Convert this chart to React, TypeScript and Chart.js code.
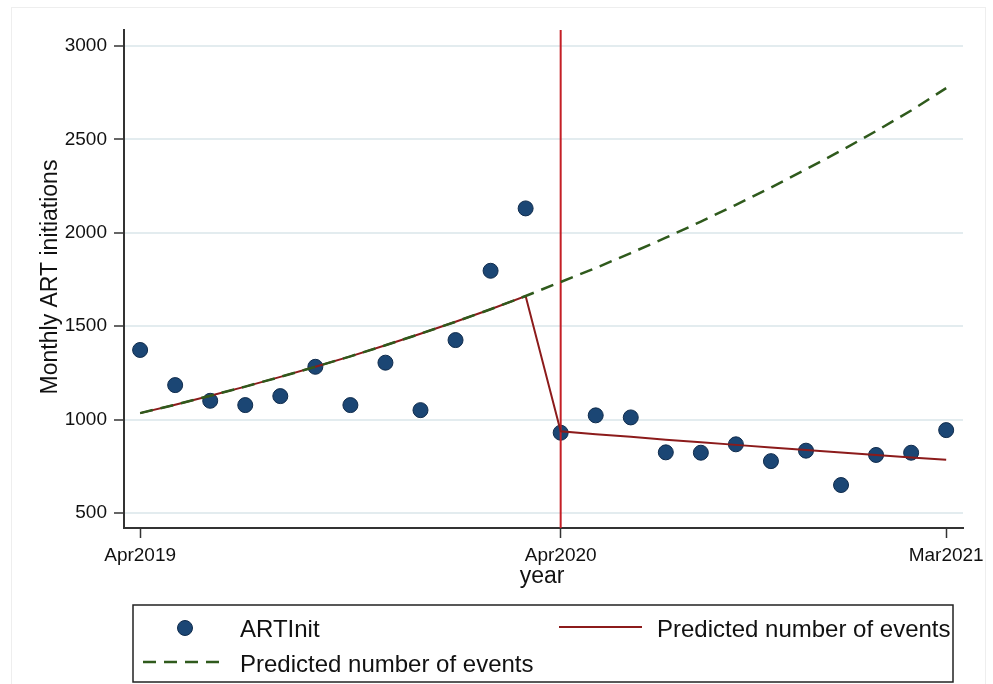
import React, { useEffect, useRef } from "react";
import { Chart, registerables } from "chart.js";

Chart.register(...registerables);

// Months index 0 = Apr2019 ... 23 = Mar2021
const months = [
  "Apr2019", "May2019", "Jun2019", "Jul2019", "Aug2019", "Sep2019", "Oct2019", "Nov2019",
  "Dec2019", "Jan2020", "Feb2020", "Mar2020", "Apr2020", "May2020", "Jun2020", "Jul2020",
  "Aug2020", "Sep2020", "Oct2020", "Nov2020", "Dec2020", "Jan2021", "Feb2021", "Mar2021",
];
const xTickIdx = [0, 12, 23];
const yTicks = [500, 1000, 1500, 2000, 2500, 3000];

const artInit = [
  1373, 1185, 1101, 1078, 1126, 1283, 1078, 1305, 1051, 1426, 1797, 2131,
  930, 1023, 1012, 825, 823, 868, 778, 834, 650, 811, 823, 944,
];
const predictedSegmented = [
  1035, 1080, 1128, 1177, 1229, 1283, 1339, 1398, 1460, 1524, 1591, 1662,
  938, 922, 908, 893, 879, 865, 851, 837, 824, 811, 798, 785,
];
const predictedCounterfactual = [
  1035, 1080, 1128, 1177, 1229, 1283, 1339, 1398, 1460, 1524, 1591, 1662,
  1737, 1812, 1892, 1974, 2060, 2150, 2243, 2340, 2440, 2545, 2655, 2775,
];
const interventionIdx = 12;

const seriesNames = ["ARTInit", "Predicted number of events", "Predicted number of events"];

const Y_MIN = 420;
const Y_MAX = 3086;
const X_MIN = -0.46;
const X_MAX = 23.48;

const FONT = '"Liberation Sans", Arial, Helvetica, sans-serif';
const NAVY = "#1b4674";
const NAVY_EDGE = "#0f2b4c";
const DARKRED = "#8c1b1b";
const BRIGHTRED = "#c41f26";
const GREEN = "#2f5a1c";

const overlayPlugin = {
  id: "overlay",
  afterDraw(chart: any) {
    const ctx = chart.ctx as CanvasRenderingContext2D;
    ctx.save();
    // faint outer frame
    ctx.strokeStyle = "#eeeeee";
    ctx.lineWidth = 1;
    ctx.strokeRect(11.5, 7.5, 974, 700);

    ctx.fillStyle = "#111";
    // x title
    ctx.font = `23px ${FONT}`;
    ctx.textAlign = "center";
    ctx.textBaseline = "alphabetic";
    ctx.fillText("year", 542, 583);
    // y title
    ctx.save();
    ctx.translate(57, 277);
    ctx.rotate(-Math.PI / 2);
    ctx.fillText("Monthly ART initiations", 0, 0);
    ctx.restore();

    // legend box
    ctx.strokeStyle = "#222";
    ctx.lineWidth = 1.5;
    ctx.strokeRect(133, 605, 820, 77);

    ctx.font = `24px ${FONT}`;
    ctx.textAlign = "left";
    ctx.fillStyle = "#111";
    // entry 1: marker
    ctx.beginPath();
    ctx.arc(185, 628, 7.5, 0, Math.PI * 2);
    ctx.fillStyle = NAVY;
    ctx.fill();
    ctx.strokeStyle = NAVY_EDGE;
    ctx.lineWidth = 1;
    ctx.stroke();
    ctx.fillStyle = "#111";
    ctx.fillText(seriesNames[0], 240, 637);
    // entry 2: red line
    ctx.beginPath();
    ctx.moveTo(559, 627);
    ctx.lineTo(642, 627);
    ctx.strokeStyle = DARKRED;
    ctx.lineWidth = 2;
    ctx.stroke();
    ctx.fillText(seriesNames[1], 657, 637);
    // entry 3: green dashed
    ctx.beginPath();
    ctx.setLineDash([13, 8]);
    ctx.moveTo(143, 662);
    ctx.lineTo(220, 662);
    ctx.strokeStyle = GREEN;
    ctx.lineWidth = 2.5;
    ctx.stroke();
    ctx.setLineDash([]);
    ctx.fillText(seriesNames[2], 240, 672);
    ctx.restore();
  },
};

export default function App() {
  const ref = useRef<HTMLCanvasElement | null>(null);

  useEffect(() => {
    if (!ref.current) return;
    const pts = (arr: number[]) => arr.map((v, i) => ({ x: i, y: v }));
    const chart = new Chart(ref.current, {
      type: "line",
      data: {
        datasets: [
          {
            type: "scatter",
            label: seriesNames[0],
            data: pts(artInit),
            backgroundColor: NAVY,
            borderColor: NAVY_EDGE,
            borderWidth: 1,
            pointRadius: 7.5,
            showLine: false,
            order: 4,
          } as any,
          {
            label: "intervention",
            data: [
              { x: interventionIdx, y: Y_MIN },
              { x: interventionIdx, y: Y_MAX },
            ],
            borderColor: BRIGHTRED,
            borderWidth: 2,
            pointRadius: 0,
            order: 3,
          },
          {
            label: seriesNames[1],
            data: pts(predictedSegmented),
            borderColor: DARKRED,
            borderWidth: 2,
            pointRadius: 0,
            tension: 0,
            order: 2,
          },
          {
            label: seriesNames[2],
            data: pts(predictedCounterfactual),
            borderColor: GREEN,
            borderWidth: 2.5,
            borderDash: [13, 8],
            pointRadius: 0,
            tension: 0,
            order: 1,
          },
        ],
      },
      options: {
        animation: false,
        responsive: false,
        devicePixelRatio: 1,
        layout: { padding: { left: 0, top: 30, right: 30, bottom: 0 } },
        plugins: { legend: { display: false }, tooltip: { enabled: false }, title: { display: false } },
        scales: {
          x: {
            type: "linear",
            min: X_MIN,
            max: X_MAX,
            afterBuildTicks: (s: any) => {
              s.ticks = xTickIdx.map((v) => ({ value: v }));
            },
            afterFit: (s: any) => {
              s.height = 156;
            },
            ticks: {
              callback: (v: any) => months[Number(v)] ?? "",
              font: { family: FONT, size: 19 },
              color: "#111",
              padding: 6,
              maxRotation: 0,
              autoSkip: false,
            },
            grid: {
              drawOnChartArea: false,
              drawTicks: true,
              tickLength: 10,
              tickColor: "#333",
              tickWidth: 1.5,
            },
            border: { display: true, color: "#333", width: 2 },
          },
          y: {
            type: "linear",
            min: Y_MIN,
            max: Y_MAX,
            afterBuildTicks: (s: any) => {
              s.ticks = yTicks.map((v) => ({ value: v }));
            },
            afterFit: (s: any) => {
              s.width = 124;
            },
            ticks: {
              callback: (v: any) => String(v),
              font: { family: FONT, size: 19 },
              color: "#111",
              padding: 7,
            },
            grid: {
              color: "#e3ecef",
              lineWidth: 2,
              tickLength: 10,
              tickColor: "#333",
              tickWidth: 1.5,
            },
            border: { display: true, color: "#333", width: 2 },
          },
        },
      },
      plugins: [overlayPlugin],
    });
    return () => chart.destroy();
  }, []);

  return (
    <div style={{ position: "absolute", left: 0, top: 0, width: 993, height: 684, background: "#fff" }}>
      <canvas ref={ref} width={993} height={684} style={{ display: "block" }} />
    </div>
  );
}
